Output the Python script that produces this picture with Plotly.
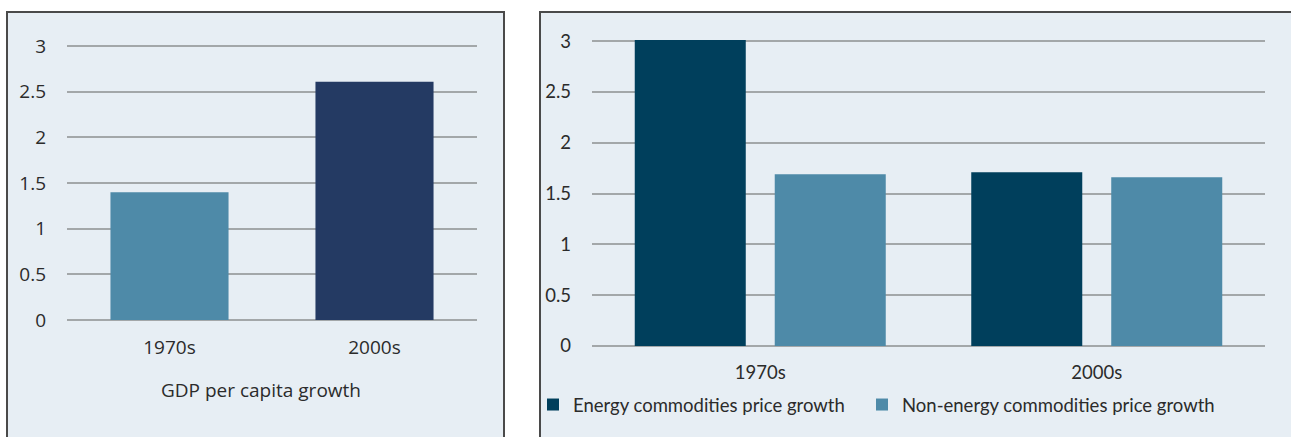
import plotly.graph_objects as go

# ---- data ----
gdp_categories = ["1970s", "2000s"]
gdp_values = [1.4, 2.61]
gdp_colors = ["#4E8AA8", "#243A63"]

comm_categories = ["1970s", "2000s"]
energy_values = [3.01, 1.71]
nonenergy_values = [1.69, 1.66]
energy_name = "Energy commodities price growth"
nonenergy_name = "Non-energy commodities price growth"
y_ticks = [0, 0.5, 1, 1.5, 2, 2.5, 3]
y_ticktext = ["0", "0.5", "1", "1.5", "2", "2.5", "3"]

W, H = 1291, 437
BG = "#E7EEF4"
GRID = "#A3A7A9"
TXT = "#2B2B2B"
ENERGY = "#003F5C"
NONENERGY = "#4E8AA8"

def px(x):
    return x / W

def py(y):
    return (H - y) / H

fig = go.Figure()

fig.add_trace(go.Bar(
    x=gdp_categories, y=gdp_values, marker_color=gdp_colors,
    marker_line_width=0, showlegend=False, xaxis="x", yaxis="y", width=0.576,
))
fig.add_trace(go.Bar(
    x=comm_categories, y=energy_values, name=energy_name, marker_color=ENERGY,
    marker_line_width=0, xaxis="x2", yaxis="y2", legend="legend",
))
fig.add_trace(go.Bar(
    x=comm_categories, y=nonenergy_values, name=nonenergy_name, marker_color=NONENERGY,
    marker_line_width=0, xaxis="x2", yaxis="y2", legend="legend2",
))

font_left = dict(family="Open Sans, DejaVu Sans, sans-serif", size=19, color=TXT)
font_right = dict(family="Lato, sans-serif", size=18.5, color=TXT)

legend_common = dict(orientation="h", xanchor="left", yanchor="middle",
                     font=font_right, bgcolor="rgba(0,0,0,0)", itemwidth=30)

# left axis: 0 at y=320px, 3 at y=46px  -> range top 3.03 at 43.3px
# right axis: 0 at y=346px, 3 at y=41px -> range top 3.02 at 39px
fig.update_layout(
    width=W, height=H,
    margin=dict(l=0, r=0, t=0, b=0, autoexpand=False),
    paper_bgcolor="white",
    plot_bgcolor="rgba(0,0,0,0)",
    barmode="group",
    bargap=0.168,
    bargroupgap=0.207,
    xaxis=dict(domain=[px(67), px(477)], anchor="y", showgrid=False, zeroline=False,
               showline=False, ticks="", tickfont=font_left, ticklabelstandoff=14,
               fixedrange=True, automargin=False),
    yaxis=dict(domain=[py(320), py(43.3)], anchor="x", range=[0, 3.03], tickvals=y_ticks,
               ticktext=y_ticktext, showgrid=True, gridcolor=GRID, gridwidth=2,
               zeroline=True, zerolinecolor=GRID, zerolinewidth=2, showline=False,
               ticks="", tickfont=font_left, ticklabelstandoff=20, automargin=False),
    xaxis2=dict(domain=[px(592), px(1265)], anchor="y2", showgrid=False, zeroline=False,
                showline=False, ticks="", tickfont=font_right, ticklabelstandoff=13,
                automargin=False),
    yaxis2=dict(domain=[py(346), py(39)], anchor="x2", range=[0, 3.02], tickvals=y_ticks,
                ticktext=y_ticktext, showgrid=True, gridcolor=GRID, gridwidth=2,
                zeroline=True, zerolinecolor=GRID, zerolinewidth=2, showline=False,
                ticks="", tickfont=font_right, ticklabelstandoff=20, automargin=False),
    legend=dict(x=px(533), y=py(405), **legend_common),
    legend2=dict(x=px(862), y=py(405), **legend_common),
    shapes=[
        dict(type="rect", xref="paper", yref="paper", x0=px(7), x1=px(504),
             y0=py(440), y1=py(12), fillcolor=BG, line=dict(color="#4A4A4A", width=2),
             layer="below"),
        dict(type="rect", xref="paper", yref="paper", x0=px(540), x1=px(1295),
             y0=py(440), y1=py(12), fillcolor=BG, line=dict(color="#4A4A4A", width=2),
             layer="below"),
    ],
    annotations=[
        dict(text="GDP per capita growth", xref="paper", yref="paper",
             x=px(261), y=py(390), xanchor="center", yanchor="middle",
             showarrow=False, font=font_left),
    ],
)

fig.write_html("out.html", config={"displayModeBar": False},
               post_script="document.body.style.margin='0';")
